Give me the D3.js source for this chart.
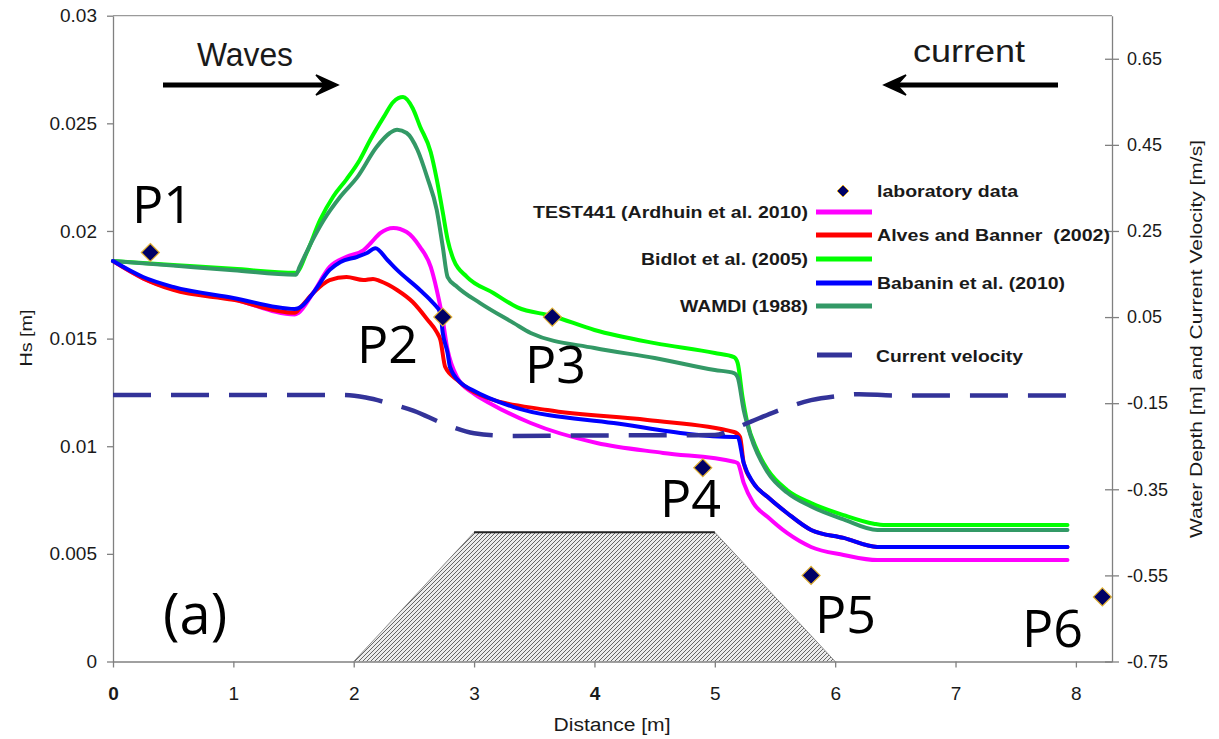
<!DOCTYPE html>
<html>
<head>
<meta charset="utf-8">
<script src="https://cdn.jsdelivr.net/npm/d3@7"></script>
<style>
  html, body { margin: 0; padding: 0; background: #fff; }
  svg { display: block; }
</style>
</head>
<body>
<svg id="chart" width="1219" height="739"></svg>
<script>
// ---- Data -------------------------------------------------------------
const distTicks = [0, 1, 2, 3, 4, 5, 6, 7, 8];
const distTickLabels = ["0", "1", "2", "3", "4", "5", "6", "7", "8"];
const hsTicks = [0, 0.005, 0.01, 0.015, 0.02, 0.025, 0.03];
const hsTickLabels = ["0", "0.005", "0.01", "0.015", "0.02", "0.025", "0.03"];
const depthTicks = [-0.75, -0.55, -0.35, -0.15, 0.05, 0.25, 0.45, 0.65];
const depthTickLabels = ["-0.75", "-0.55", "-0.35", "-0.15", "0.05", "0.25", "0.45", "0.65"];

// Significant wave height Hs [m] along the flume, [distance m, Hs m]
const test441 = [[0,0.0186],[0.25,0.0178],[0.5,0.0173],[1.0,0.01683],[1.51,0.01612],[1.54,0.01619],[1.66,0.0171],[1.80,0.01833],[1.94,0.0188],[2.08,0.0191],[2.14,0.01943],[2.22,0.0199],[2.33,0.02014],[2.44,0.01995],[2.55,0.01926],[2.64,0.01833],[2.69,0.01726],[2.73,0.01619],[2.78,0.01447],[2.86,0.0132],[2.99,0.01247],[3.13,0.012],[3.47,0.01108],[4.02,0.01015],[4.57,0.00969],[5.16,0.00928],[5.19,0.00922],[5.24,0.0083],[5.32,0.00736],[5.44,0.00671],[5.60,0.00597],[5.80,0.00532],[6.07,0.00495],[6.35,0.00471],[7.93,0.00471]];
const alvesBanner = [[0,0.0186],[0.25,0.0178],[0.5,0.01726],[1.0,0.0168],[1.51,0.0162],[1.56,0.01647],[1.66,0.0171],[1.80,0.01772],[1.94,0.01786],[2.08,0.01772],[2.16,0.01777],[2.22,0.01767],[2.36,0.01726],[2.49,0.0167],[2.61,0.0159],[2.69,0.0153],[2.72,0.01494],[2.76,0.01368],[2.86,0.01308],[3.05,0.01238],[3.61,0.01168],[4.44,0.01122],[5.16,0.01066],[5.21,0.01043],[5.24,0.00922],[5.32,0.00829],[5.44,0.00764],[5.60,0.0069],[5.80,0.00611],[6.07,0.00574],[6.35,0.00532],[7.93,0.00532]];
const bidlot = [[0,0.0186],[0.5,0.01842],[1.0,0.01824],[1.52,0.01806],[1.61,0.0190],[1.72,0.0205],[1.83,0.0216],[1.94,0.0224],[2.05,0.0233],[2.14,0.02426],[2.25,0.0253],[2.33,0.0260],[2.41,0.02622],[2.49,0.0257],[2.55,0.02487],[2.64,0.02366],[2.69,0.0224],[2.74,0.02086],[2.78,0.0196],[2.83,0.01866],[2.94,0.01787],[3.16,0.01712],[3.36,0.01645],[3.65,0.01605],[4.0,0.0154],[4.5,0.01479],[5.0,0.01433],[5.16,0.01414],[5.19,0.01386],[5.23,0.0123],[5.27,0.0111],[5.35,0.00983],[5.44,0.0089],[5.60,0.00797],[5.80,0.00736],[6.07,0.0068],[6.32,0.0064],[6.4,0.00634],[7.93,0.00634]];
const babanin = [[0,0.0186],[0.25,0.01786],[0.5,0.0174],[1.0,0.01689],[1.51,0.01638],[1.56,0.01647],[1.66,0.0171],[1.80,0.01819],[1.89,0.01856],[2.03,0.0188],[2.11,0.01898],[2.18,0.0192],[2.28,0.01865],[2.36,0.01819],[2.55,0.01726],[2.66,0.01665],[2.72,0.01619],[2.74,0.01526],[2.78,0.01433],[2.80,0.01368],[2.89,0.01294],[2.99,0.0126],[3.33,0.01182],[4.16,0.01108],[5.16,0.01043],[5.19,0.01043],[5.24,0.00922],[5.32,0.00829],[5.44,0.00764],[5.60,0.0069],[5.80,0.00611],[6.07,0.00574],[6.35,0.00532],[7.93,0.00532]];
const wamdi = [[0,0.0186],[0.5,0.01839],[1.0,0.01818],[1.52,0.01797],[1.55,0.01833],[1.66,0.0196],[1.75,0.0205],[1.89,0.0216],[2.03,0.0225],[2.19,0.0239],[2.30,0.02455],[2.36,0.0247],[2.44,0.02455],[2.53,0.02376],[2.61,0.0225],[2.69,0.02097],[2.74,0.01926],[2.78,0.01786],[2.86,0.0174],[3.05,0.01665],[3.33,0.01572],[3.47,0.01526],[4.0,0.01456],[4.5,0.0141],[5.0,0.01354],[5.16,0.0134],[5.19,0.0132],[5.24,0.01168],[5.30,0.01045],[5.44,0.00878],[5.60,0.00785],[5.80,0.0072],[6.07,0.0066],[6.35,0.00611],[7.93,0.00611]];

// Current velocity [m/s] along the flume (right axis)
const currentVelocity = [[0,-0.131],[1.9,-0.131],[2.1,-0.137],[2.3,-0.151],[2.5,-0.168],[2.75,-0.198],[3.0,-0.22],[3.3,-0.226],[4.0,-0.225],[5.0,-0.224],[5.15,-0.21],[5.3,-0.193],[5.5,-0.17],[5.8,-0.143],[6.0,-0.134],[6.2,-0.129],[6.5,-0.132],[8.0,-0.132]];

// Bottom profile of the submerged bar [distance m, depth m] (right axis)
const barProfile = [[2, -0.75], [3, -0.45], [5, -0.45], [6, -0.75]];

// Laboratory measurements at gauges P1..P6
const gaugeNames = ["P1", "P2", "P3", "P4", "P5", "P6"];
const gaugeDist = [0.31, 2.74, 3.65, 4.9, 5.8, 8.22];
const gaugeHs = [0.019, 0.016, 0.016, 0.009, 0.004, 0.003];

const seriesNames = ["TEST441 (Ardhuin et al. 2010)", "Alves and Banner  (2002)", "Bidlot et al. (2005)", "Babanin et al. (2010)", "WAMDI (1988)"];

// ---- Layout ------------------------------------------------------------
const svg = d3.select("#chart");
const X0 = 113, X1 = 1112, Y0 = 661.5, Y1 = 15.7;
const FONT = "'Liberation Sans', Arial, Helvetica, sans-serif";

const x = d3.scaleLinear().domain([0, 8.3]).range([X0, X1]);
const yHs = d3.scaleLinear().domain([0, 0.03]).range([Y0, Y1]);
const yR = d3.scaleLinear().domain([-0.75, 0.75]).range([Y0, Y1]);

// hatch fill for the bar
const defs = svg.append("defs");
const pat = defs.append("pattern")
  .attr("id", "hatch").attr("width", 4).attr("height", 4)
  .attr("patternUnits", "userSpaceOnUse");
pat.append("rect").attr("width", 4).attr("height", 4).attr("fill", "#ececec");
pat.append("path")
  .attr("d", "M-1,1 l2,-2 M0,4 l4,-4 M3,5 l2,-2")
  .attr("stroke", "#3a3a3a").attr("stroke-width", 0.75);

// top frame line
svg.append("line")
  .attr("x1", X0).attr("x2", X1).attr("y1", Y1).attr("y2", Y1)
  .attr("stroke", "#9a9a9a").attr("stroke-width", 1.2);

// bar
svg.append("path")
  .datum(barProfile)
  .attr("d", d3.line().x(d => x(d[0])).y(d => yR(d[1])))
  .attr("fill", "url(#hatch)")
  .attr("stroke", "#666").attr("stroke-width", 0.7);
svg.append("line")
  .attr("x1", x(barProfile[1][0])).attr("x2", x(barProfile[2][0]))
  .attr("y1", yR(barProfile[1][1])).attr("y2", yR(barProfile[2][1]))
  .attr("stroke", "#222").attr("stroke-width", 2);

// ---- Axes --------------------------------------------------------------
function styleAxis(g) {
  g.select(".domain").attr("stroke", "#808080").attr("stroke-width", 1.3);
  g.selectAll(".tick line").attr("stroke", "#808080").attr("stroke-width", 1.3);
  g.selectAll(".tick text").attr("fill", "#1a1a1a").style("font-family", FONT);
}

const gx = svg.append("g").attr("transform", `translate(0,${Y0})`)
  .call(d3.axisBottom(x).tickValues(distTicks).tickFormat((d, i) => distTickLabels[i])
    .tickSize(6).tickSizeOuter(0));
styleAxis(gx);
gx.selectAll(".tick text").attr("y", 25).style("font-size", "19px")
  .style("font-weight", d => (d === 0 || d === 4) ? "bold" : "normal");

const gy = svg.append("g").attr("transform", `translate(${X0},0)`)
  .call(d3.axisLeft(yHs).tickValues(hsTicks).tickFormat((d, i) => hsTickLabels[i])
    .tickSize(6).tickSizeOuter(0));
styleAxis(gy);
gy.selectAll(".tick text").attr("x", -16).style("font-size", "19px");

const gr = svg.append("g").attr("transform", `translate(${X1},0)`)
  .call(d3.axisRight(yR).tickValues(depthTicks).tickFormat((d, i) => depthTickLabels[i])
    .tickSize(7).tickSizeOuter(0));
styleAxis(gr);
gr.selectAll(".tick line").attr("x1", -7);
gr.selectAll(".tick text").attr("x", 15).style("font-size", "18px");

// axis titles
function stretchedText(parent, txt, len, attrs) {
  const t = parent.append("text").text(txt)
    .attr("textLength", len).attr("lengthAdjust", "spacingAndGlyphs")
    .style("font-family", FONT).style("white-space", "pre").attr("fill", "#1a1a1a");
  Object.entries(attrs).forEach(([k, v]) => t.attr(k, v));
  return t;
}
stretchedText(svg, "Distance [m]", 117, {x: 612, y: 731, "text-anchor": "middle", "font-size": 18});
stretchedText(svg, "Hs [m]", 57, {transform: "translate(32,338) rotate(-90)", "text-anchor": "middle", "font-size": 17});
stretchedText(svg, "Water Depth [m] and Current Velocity [m/s]", 398,
  {transform: "translate(1202,339) rotate(-90)", "text-anchor": "middle", "font-size": 17});

// ---- Curves -------------------------------------------------------------
const lineR = d3.line().x(d => x(d[0])).y(d => yR(d[1])).curve(d3.curveMonotoneX);
const lineHs = d3.line().x(d => x(d[0])).y(d => yHs(d[1])).curve(d3.curveMonotoneX);

const seriesDraw = [
  {data: test441, color: "#ff00ff"},
  {data: alvesBanner, color: "#ff0000"},
  {data: bidlot, color: "#00ff00"},
  {data: wamdi, color: "#339966"},
  {data: babanin, color: "#0000ff"}
];
seriesDraw.forEach(s => {
  svg.append("path").datum(s.data)
    .attr("d", lineHs)
    .attr("fill", "none").attr("stroke", s.color)
    .attr("stroke-width", 4).attr("stroke-linejoin", "round").attr("stroke-linecap", "round");
});

// current velocity (dashed, right axis)
svg.append("path").datum(currentVelocity)
  .attr("d", lineR)
  .attr("fill", "none").attr("stroke", "#333399")
  .attr("stroke-width", 4.5).attr("stroke-dasharray", "38,20");

// ---- Laboratory data --------------------------------------------------
const diamond = r => `M0,${-r} L${r},0 L0,${r} L${-r},0 Z`;
svg.selectAll(".gauge").data(gaugeDist).enter().append("path")
  .attr("class", "gauge")
  .attr("transform", (d, i) => `translate(${x(d)},${yHs(gaugeHs[i])})`)
  .attr("d", diamond(9))
  .attr("fill", "#000066").attr("stroke", "#e0b030").attr("stroke-width", 1.2);

// gauge names
const gaugeLabelPos = [[132, 223], [357, 363], [525, 383], [660, 517], [815, 633], [1022, 647]];
gaugeNames.forEach((n, i) => {
  svg.append("text").text(n)
    .attr("x", gaugeLabelPos[i][0]).attr("y", gaugeLabelPos[i][1])
    .style("font-family", "'Open Sans', 'DejaVu Sans', sans-serif")
    .style("font-size", "52px").attr("fill", "#000");
});
svg.append("text").text("(a)")
  .attr("x", 163).attr("y", 634)
  .style("font-family", "'Open Sans', 'DejaVu Sans', sans-serif")
  .style("font-size", "56px").attr("fill", "#000");

// ---- Direction arrows --------------------------------------------------
stretchedText(svg, "Waves", 96, {x: 197, y: 66, "font-size": 33});
stretchedText(svg, "current", 112, {x: 913, y: 62, "font-size": 31});

function arrow(xFrom, xTo, yy) {
  const dir = Math.sign(xTo - xFrom);
  svg.append("line").attr("x1", xFrom).attr("x2", xTo - dir * 6)
    .attr("y1", yy).attr("y2", yy).attr("stroke", "#000").attr("stroke-width", 5);
  svg.append("path")
    .attr("d", `M${xTo},${yy} L${xTo - dir * 22},${yy - 10} L${xTo - dir * 13},${yy} L${xTo - dir * 22},${yy + 10} Z`)
    .attr("fill", "#000").attr("stroke", "#000").attr("stroke-width", 1.5).attr("stroke-linejoin", "miter");
}
arrow(163, 338, 85);
arrow(1058, 884, 85);

// ---- Legend ------------------------------------------------------------
const lg = svg.append("g");
lg.append("path").attr("transform", "translate(843,191)").attr("d", diamond(6))
  .attr("fill", "#000066").attr("stroke", "#e0b030").attr("stroke-width", 1);
stretchedText(lg, "laboratory data", 141, {x: 877, y: 197, "font-size": 16, "font-weight": "bold"});

const legendRows = [
  {name: seriesNames[0], color: "#ff00ff", y: 212, side: "left", len: 275},
  {name: seriesNames[1], color: "#ff0000", y: 235, side: "right", len: 233},
  {name: seriesNames[2], color: "#00ff00", y: 259, side: "left", len: 167},
  {name: seriesNames[3], color: "#0000ff", y: 283, side: "right", len: 188},
  {name: seriesNames[4], color: "#339966", y: 306, side: "left", len: 128}
];
legendRows.forEach(r => {
  lg.append("line").attr("x1", 816).attr("x2", 872).attr("y1", r.y).attr("y2", r.y)
    .attr("stroke", r.color).attr("stroke-width", 5);
  if (r.side === "left") {
    stretchedText(lg, r.name, r.len, {x: 808, y: r.y + 5.5, "text-anchor": "end", "font-size": 16, "font-weight": "bold"});
  } else {
    stretchedText(lg, r.name, r.len, {x: 877, y: r.y + 5.5, "font-size": 16, "font-weight": "bold"});
  }
});
lg.append("line").attr("x1", 817).attr("x2", 852).attr("y1", 355).attr("y2", 355)
  .attr("stroke", "#333399").attr("stroke-width", 5);
stretchedText(lg, "Current velocity", 147, {x: 876, y: 362, "font-size": 16, "font-weight": "bold"});
</script>
</body>
</html>
